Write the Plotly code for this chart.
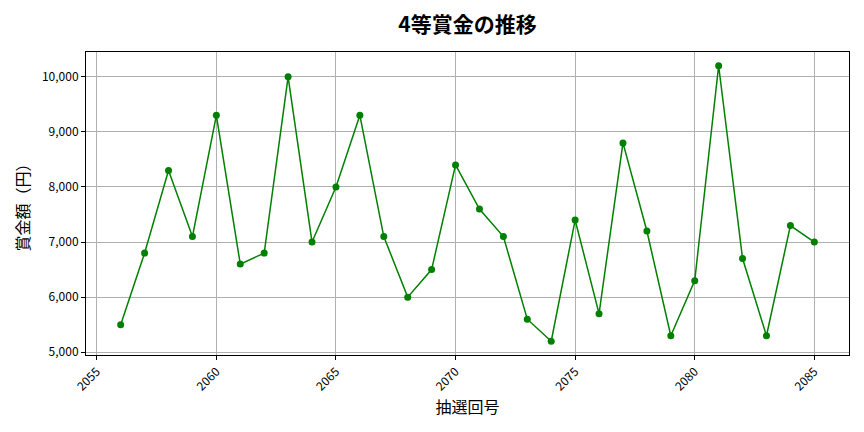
import plotly.graph_objects as go

# Draw numbers and 4th prize amounts (yen)
draws = list(range(2056, 2086))
prizes = [5500, 6800, 8300, 7100, 9300, 6600, 6800, 10000, 7000, 8000,
          9300, 7100, 6000, 6500, 8400, 7600, 7100, 5600, 5200, 7400,
          5700, 8800, 7200, 5300, 6300, 10200, 6700, 5300, 7300, 7000]

font = "Noto Sans CJK JP"

fig = go.Figure()
fig.add_trace(go.Scatter(
    x=draws, y=prizes,
    mode="lines+markers",
    line=dict(color="green", width=1.5),
    marker=dict(color="green", size=7),
))

# the page body has an 8px margin, so the margins are shifted to compensate
fig.update_layout(
    width=864, height=432,
    margin=dict(l=78, r=23, t=44, b=85, autoexpand=False),
    paper_bgcolor="white", plot_bgcolor="white",
    font=dict(family=font, size=12, color="black"),
    showlegend=False,
    title=dict(text="<b>4等賞金の推移</b>", xref="paper", x=0.5, xanchor="center",
               y=1 - 17 / 432, yanchor="middle", font=dict(size=21)),
)
fig.update_xaxes(
    range=[2054.55, 2086.45], tickmode="array",
    tickvals=[2055, 2060, 2065, 2070, 2075, 2080, 2085],
    tickangle=-45, showgrid=True, gridcolor="#b0b0b0", gridwidth=0.8,
    showline=True, linecolor="black", linewidth=1, mirror=True,
    ticks="outside", ticklen=4, tickcolor="black", zeroline=False,
    title=dict(text="抽選回号", font=dict(size=16), standoff=4),
)
fig.update_yaxes(
    range=[4950, 10450], tickmode="array",
    tickvals=[5000, 6000, 7000, 8000, 9000, 10000], tickformat=",d",
    showgrid=True, gridcolor="#b0b0b0", gridwidth=0.8,
    showline=True, linecolor="black", linewidth=1, mirror=True,
    ticks="outside", ticklen=4, tickcolor="black", zeroline=False,
    title=dict(text="賞金額（円）", font=dict(size=16), standoff=8),
)

fig.write_html("out.html")
